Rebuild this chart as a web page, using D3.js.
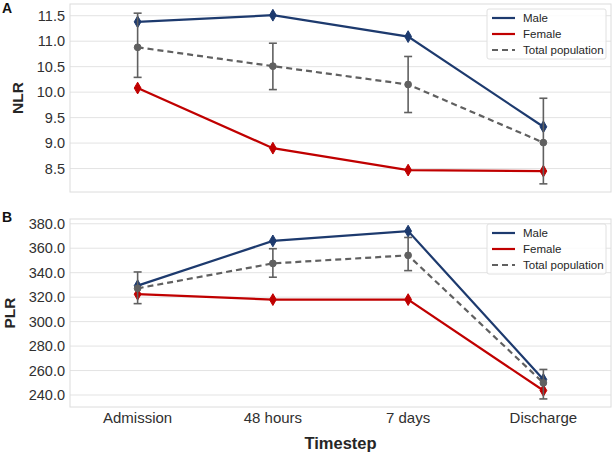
<!DOCTYPE html>
<html>
<head>
<meta charset="utf-8">
<script src="https://cdn.jsdelivr.net/npm/d3@7"></script>
<style>
  body { margin: 0; background: #fff; }
  svg { font-family: "Liberation Sans", Arial, sans-serif; }
</style>
</head>
<body>
<div id="vis"></div>
<script>
const timesteps = ['Admission', '48 hours', '7 days', 'Discharge'];

// panel A: NLR
const nlrMale = [11.38, 11.51, 11.09, 9.32];
const nlrFemale = [10.08, 8.90, 8.47, 8.45];
const nlrTotal = [10.88, 10.51, 10.15, 9.01];
const nlrTotalLow = [10.29, 10.05, 9.60, 8.20];
const nlrTotalHigh = [11.55, 10.96, 10.70, 9.88];
const nlrTicks = [8.5, 9.0, 9.5, 10.0, 10.5, 11.0, 11.5];

// panel B: PLR
const plrMale = [329.4, 366.0, 374.0, 252.7];
const plrFemale = [322.4, 318.0, 318.0, 243.7];
const plrTotal = [327.2, 347.6, 354.2, 249.9];
const plrTotalLow = [314.7, 336.3, 341.7, 236.8];
const plrTotalHigh = [340.6, 359.6, 368.8, 260.9];
const plrTicks = [240, 260, 280, 300, 320, 340, 360, 380];

const width = 613, height = 454;
const left = 70, right = 611;

const svg = d3.select('#vis')
    .append('svg')
    .attr('width', width)
    .attr('height', height);

const x = d3.scalePoint()
    .domain(timesteps)
    .range([left, right])
    .padding(0.5);

const colMale = '#1d3a6e';
const colFemale = '#c00000';
const colTotal = '#606060';

function drawPanel(cfg) {
    const y = d3.scaleLinear().domain(cfg.domain).range([cfg.bottom, cfg.top]);
    const g = svg.append('g');

    // grid
    g.selectAll('line.grid')
        .data(cfg.ticks)
        .join('line')
        .attr('x1', left).attr('x2', right)
        .attr('y1', d => y(d)).attr('y2', d => y(d))
        .attr('stroke', '#e3e3e3')
        .attr('stroke-width', 1);

    // frame
    g.append('rect')
        .attr('x', left).attr('y', cfg.top)
        .attr('width', right - left).attr('height', cfg.bottom - cfg.top)
        .attr('fill', 'none')
        .attr('stroke', '#dcdcdc');

    // y tick labels
    g.selectAll('text.tick')
        .data(cfg.ticks)
        .join('text')
        .attr('x', 65)
        .attr('y', d => y(d))
        .attr('dy', '0.35em')
        .attr('text-anchor', 'end')
        .attr('font-size', 14.5)
        .attr('fill', '#303030')
        .text(d => d.toFixed(1));

    // y label
    g.append('text')
        .attr('transform', `translate(${cfg.labelX},${(cfg.top + cfg.bottom) / 2}) rotate(-90)`)
        .attr('text-anchor', 'middle')
        .attr('dy', '0.35em')
        .attr('font-size', 15.5)
        .attr('font-weight', 'bold')
        .attr('fill', '#262626')
        .text(cfg.label);

    // panel letter
    g.append('text')
        .attr('x', 2).attr('y', cfg.letterY)
        .attr('font-size', 14)
        .attr('font-weight', 'bold')
        .attr('fill', '#111')
        .text(cfg.letter);

    const line = d3.line().x((d, i) => x(timesteps[i])).y(d => y(d));

    function series(vals, color, dash, shape) {
        g.append('path')
            .datum(vals)
            .attr('d', line)
            .attr('fill', 'none')
            .attr('stroke', color)
            .attr('stroke-width', 2.2)
            .attr('stroke-dasharray', dash);
        g.selectAll(null)
            .data(vals)
            .join('path')
            .attr('transform', (d, i) => `translate(${x(timesteps[i])},${y(d)})`)
            .attr('d', d3.symbol().type(shape).size(shape === d3.symbolCircle ? 36 : 40)())
            .attr('fill', color)
            .attr('stroke', color)
            .attr('stroke-width', 1);
    }

    series(cfg.male, colMale, null, d3.symbolDiamond);
    series(cfg.female, colFemale, null, d3.symbolDiamond);

    // error bars for total population
    cfg.totalLow.forEach((lo, i) => {
        const cx = x(timesteps[i]);
        const hi = cfg.totalHigh[i];
        g.append('line')
            .attr('x1', cx).attr('x2', cx)
            .attr('y1', y(lo)).attr('y2', y(hi))
            .attr('stroke', colTotal).attr('stroke-width', 1.6);
        [lo, hi].forEach(v => {
            g.append('line')
                .attr('x1', cx - 4).attr('x2', cx + 4)
                .attr('y1', y(v)).attr('y2', y(v))
                .attr('stroke', colTotal).attr('stroke-width', 1.6);
        });
    });
    series(cfg.total, colTotal, '6,4', d3.symbolCircle);

    // legend
    const lg = g.append('g').attr('transform', `translate(487,${cfg.legendY})`);
    lg.append('rect')
        .attr('width', 119).attr('height', 50)
        .attr('rx', 2)
        .attr('fill', 'white')
        .attr('fill-opacity', 0.85)
        .attr('stroke', '#e0e0e0');
    const items = [
        { name: 'Male', color: colMale, dash: null },
        { name: 'Female', color: colFemale, dash: null },
        { name: 'Total population', color: colTotal, dash: '6,4' }
    ];
    items.forEach((it, i) => {
        const yy = 9 + i * 16;
        lg.append('line')
            .attr('x1', 5).attr('x2', 28)
            .attr('y1', yy).attr('y2', yy)
            .attr('stroke', it.color)
            .attr('stroke-width', 2.2)
            .attr('stroke-dasharray', it.dash);
        lg.append('text')
            .attr('x', 36).attr('y', yy)
            .attr('dy', '0.35em')
            .attr('font-size', 11.5)
            .attr('fill', '#262626')
            .text(it.name);
    });
}

drawPanel({
    top: 4, bottom: 192, domain: [8.04, 11.73], ticks: nlrTicks,
    label: 'NLR', labelX: 18, letter: 'A', letterY: 13, legendY: 9,
    male: nlrMale, female: nlrFemale, total: nlrTotal,
    totalLow: nlrTotalLow, totalHigh: nlrTotalHigh
});

drawPanel({
    top: 219, bottom: 407, domain: [230.2, 383.9], ticks: plrTicks,
    label: 'PLR', labelX: 10, letter: 'B', letterY: 222, legendY: 224,
    male: plrMale, female: plrFemale, total: plrTotal,
    totalLow: plrTotalLow, totalHigh: plrTotalHigh
});

// x tick labels
svg.selectAll('text.xtick')
    .data(timesteps)
    .join('text')
    .attr('x', d => x(d))
    .attr('y', 423)
    .attr('text-anchor', 'middle')
    .attr('font-size', 15)
    .attr('fill', '#303030')
    .text(d => d);

svg.append('text')
    .attr('x', (left + right) / 2)
    .attr('y', 449)
    .attr('text-anchor', 'middle')
    .attr('font-size', 16.5)
    .attr('font-weight', 'bold')
    .attr('fill', '#262626')
    .text('Timestep');
</script>
</body>
</html>
